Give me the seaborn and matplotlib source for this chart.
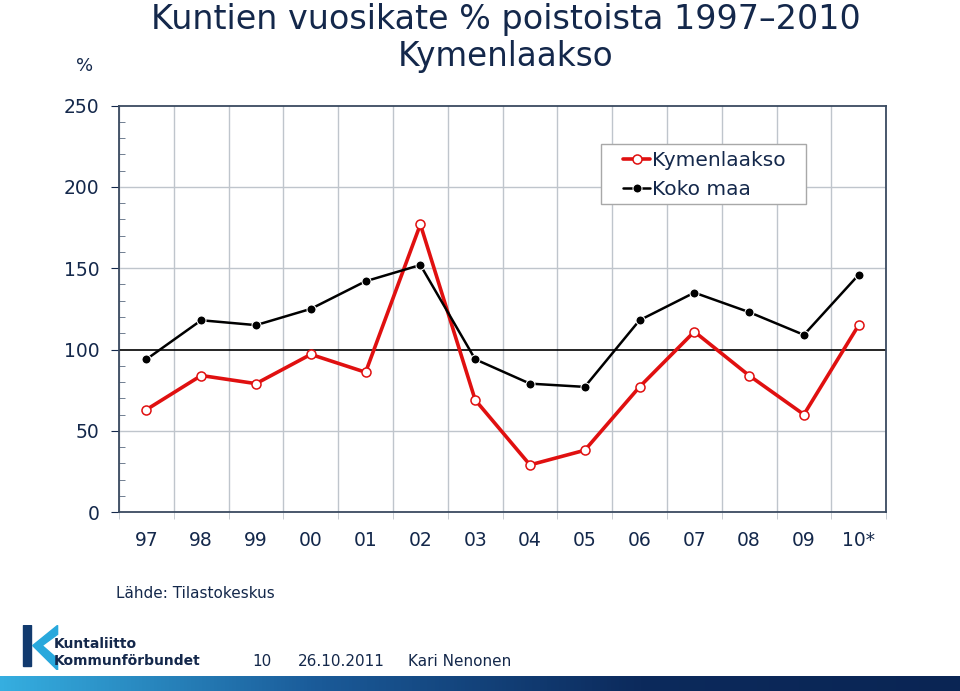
import numpy as np
import pandas as pd
import seaborn as sns
import matplotlib.pyplot as plt
from matplotlib.ticker import MultipleLocator, FixedLocator
from matplotlib.patches import Polygon, Rectangle
from matplotlib.colors import LinearSegmentedColormap

years = ["97", "98", "99", "00", "01", "02", "03", "04", "05", "06", "07", "08", "09", "10*"]
kymenlaakso = [63, 84, 79, 97, 86, 177, 69, 29, 38, 77, 111, 84, 60, 115]
koko_maa = [94, 118, 115, 125, 142, 152, 94, 79, 77, 118, 135, 123, 109, 146]
series_names = ["Kymenlaakso", "Koko maa"]

navy = "#14284b"

df = pd.DataFrame({
    "vuosi": years * 2,
    "arvo": kymenlaakso + koko_maa,
    "alue": [series_names[0]] * len(years) + [series_names[1]] * len(years),
})

sns.set_style("white")
plt.rcParams["font.family"] = ["DejaVu Sans"]

fig = plt.figure(figsize=(9.6, 6.91), dpi=100)
ax = fig.add_axes([0.124, 0.259, 0.799, 0.588])

# reference line at 100 and light grid
ax.axhline(100, color="black", lw=1.2, zorder=1)
for v in [50, 150, 200]:
    ax.axhline(v, color="#bfc5cc", lw=1, zorder=0)

sns.lineplot(data=df, x="vuosi", y="arvo", hue="alue", style="alue",
             palette={"Kymenlaakso": "#e01010", "Koko maa": "black"},
             markers={"Kymenlaakso": "o", "Koko maa": "o"},
             dashes=False, sort=False, ax=ax, legend=False, zorder=3)
lines = ax.get_lines()[-2:]
red, blk = lines
red.set_linewidth(2.6)
red.set_markerfacecolor("white")
red.set_markeredgecolor("#e01010")
red.set_markersize(6.5)
red.set_markeredgewidth(1.1)
blk.set_linewidth(1.8)
blk.set_markersize(6.5)
blk.set_markerfacecolor("black")

ax.set_xlim(-0.5, len(years) - 0.5)
ax.set_ylim(0, 250)
ax.set_xlabel("")
ax.set_ylabel("")

ax.xaxis.set_minor_locator(FixedLocator(np.arange(-0.5, len(years), 1)))
ax.grid(which="minor", axis="x", color="#bfc5cc", lw=1)
ax.tick_params(axis="x", which="major", length=0, labelsize=13.5, labelcolor=navy, pad=14)
ax.tick_params(axis="x", which="minor", length=5, direction="out", color="#bfc5cc", bottom=True)

ax.yaxis.set_major_locator(MultipleLocator(50))
ax.yaxis.set_minor_locator(MultipleLocator(10))
ax.tick_params(axis="y", which="major", length=6, direction="out", color=navy,
               labelsize=13.5, labelcolor=navy, pad=8, left=True)
ax.tick_params(axis="y", which="minor", length=4, direction="in", color="#5a6a80", left=True)

for s in ax.spines.values():
    s.set_color("#3a4a60")
    s.set_linewidth(1.3)

# legend: entries without frame, frame drawn separately
leg = ax.legend(lines, series_names, loc="upper left", bbox_to_anchor=(0.657, 0.889),
                borderaxespad=0, borderpad=0, fontsize=14.5, frameon=False,
                handlelength=1.35, handletextpad=0.1, labelspacing=0.5)
for t in leg.get_texts():
    t.set_color(navy)
ax.add_patch(Rectangle((0.628, 0.759), 0.268, 0.147, transform=ax.transAxes,
                       facecolor="white", edgecolor="#a8a8a8", lw=1, zorder=4))
leg.set_zorder(5)

fig.text(0.079, 0.897, "%", fontsize=13, color=navy, ha="left")
fig.text(0.527, 0.972, "Kuntien vuosikate % poistoista 1997\u20132010", fontsize=24,
         color=navy, ha="center", va="center")
fig.text(0.527, 0.918, "Kymenlaakso", fontsize=23.5, color=navy, ha="center", va="center")

fig.text(0.121, 0.141, "Lähde: Tilastokeskus", fontsize=11, color=navy, va="center")

# logo
la = fig.add_axes([0.022, 0.03, 0.04, 0.065])
la.set_xlim(0, 1)
la.set_ylim(0, 1)
la.axis("off")
la.add_patch(Polygon([[0.05, 0.1], [0.25, 0.1], [0.25, 1.0], [0.05, 1.0]], color="#123a6e"))
la.add_patch(Polygon([[0.3, 0.55], [0.95, 1.0], [0.95, 0.8], [0.55, 0.55], [0.95, 0.25], [0.95, 0.0]],
                     color="#28a8dc"))
fig.text(0.056, 0.068, "Kuntaliitto", fontsize=10, color=navy, weight="bold", va="center")
fig.text(0.056, 0.043, "Kommunförbundet", fontsize=10, color=navy, weight="bold", va="center")
fig.text(0.263, 0.043, "10", fontsize=11, color=navy, va="center")
fig.text(0.31, 0.043, "26.10.2011", fontsize=11, color=navy, va="center")
fig.text(0.425, 0.043, "Kari Nenonen", fontsize=11, color=navy, va="center")

# gradient footer bar
ga = fig.add_axes([0.0, 0.0, 1.0, 0.022])
ga.axis("off")
grad = np.linspace(0, 1, 256).reshape(1, -1)
cmap = LinearSegmentedColormap.from_list("bar", ["#35aee0", "#1a5a98", "#0c2a5c", "#0a2554"])
ga.imshow(grad, aspect="auto", cmap=cmap, extent=[0, 1, 0, 1])

fig.savefig("out.png", dpi=100)
